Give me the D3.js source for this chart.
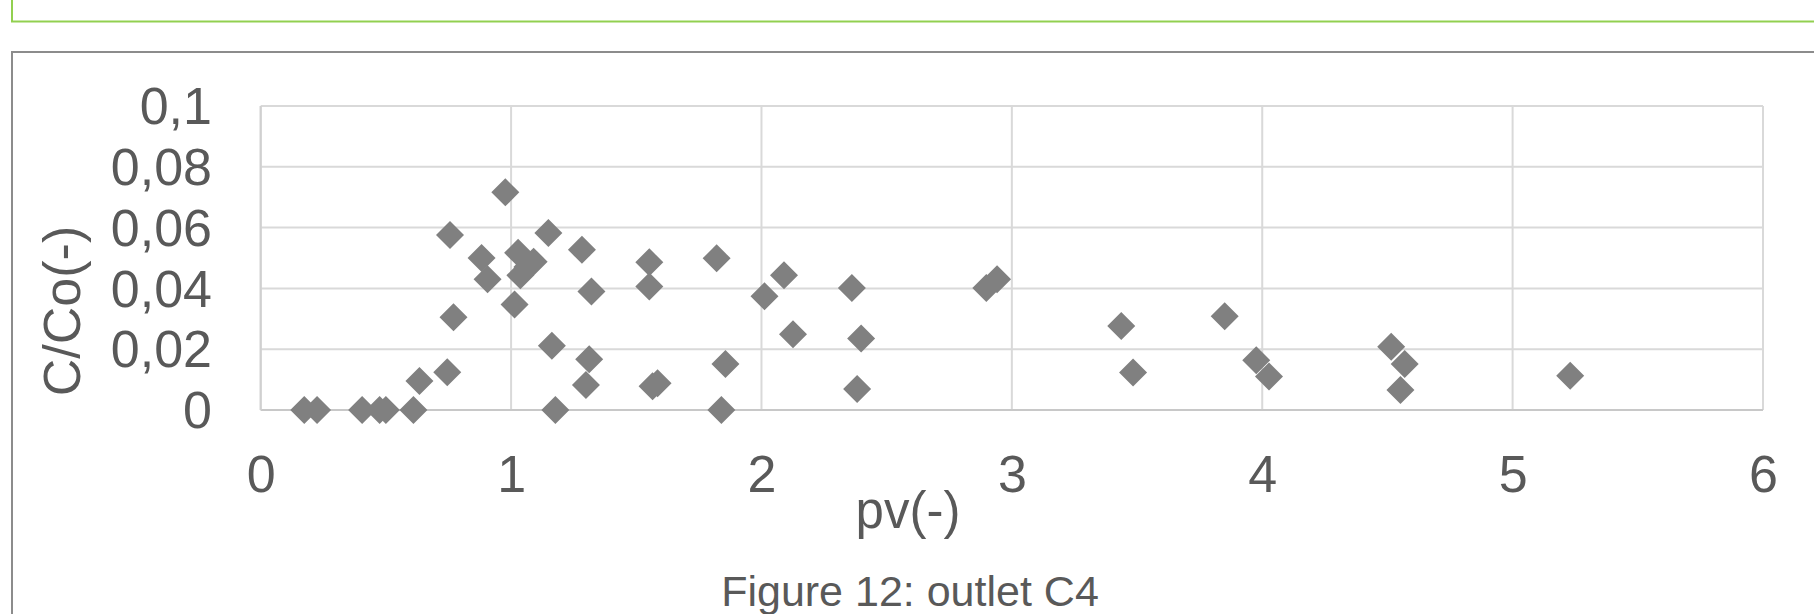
<!DOCTYPE html>
<html>
<head>
<meta charset="utf-8">
<script src="https://cdn.jsdelivr.net/npm/d3@7"></script>
<style>
  html, body { margin: 0; padding: 0; background: #ffffff; }
  svg { display: block; }
  text { font-family: "Liberation Sans", Arial, sans-serif; fill: #595959; }
</style>
</head>
<body>
<svg id="chart" width="1814" height="614"></svg>
<script>
// ---- data ----
const pv = [0.174, 0.225, 0.405, 0.475, 0.500, 0.610, 0.634, 0.745, 0.770, 0.756,
            0.977, 0.882, 0.906, 1.028, 1.090, 1.037, 1.065, 1.014, 1.149, 1.163,
            1.177, 1.283, 1.321, 1.312, 1.299, 1.552, 1.552, 1.565, 1.585, 1.821,
            1.856, 1.840, 2.012, 2.090, 2.126, 2.361, 2.398, 2.382, 2.898, 2.941,
            3.437, 3.484, 3.850, 3.976, 4.027, 4.515, 4.569, 4.552, 5.230];
const cco = [0, 0, 0, 0, 0, 0, 0.0095, 0.0124, 0.0305, 0.0576,
             0.0716, 0.0500, 0.0430, 0.0517, 0.0488, 0.0443, 0.0470, 0.0347, 0.0582, 0.0211,
             0, 0.0527, 0.0390, 0.0167, 0.0082, 0.0486, 0.0406, 0.0078, 0.0088, 0.0499,
             0.0151, 0, 0.0374, 0.0443, 0.0249, 0.0401, 0.0235, 0.0069, 0.0401, 0.0430,
             0.0276, 0.0123, 0.0308, 0.0164, 0.0110, 0.0208, 0.0151, 0.0066, 0.0113];
const xTicks = [0, 1, 2, 3, 4, 5, 6];
const yTicks = [0, 0.02, 0.04, 0.06, 0.08, 0.1];
const yTickLabels = ["0", "0,02", "0,04", "0,06", "0,08", "0,1"];
const xTitle = "pv(-)";
const yTitle = "C/Co(-)";
const caption = "Figure 12: outlet C4";

const points = pv.map((v, i) => ({ x: v, y: cco[i] }));

const svg = d3.select("#chart");

// decorative frames
svg.append("rect").attr("x", 12).attr("y", -10).attr("width", 1830).attr("height", 31.5)
  .attr("fill", "none").attr("stroke", "#92d050").attr("stroke-width", 2);
svg.append("rect").attr("x", 12).attr("y", 52).attr("width", 1830).attr("height", 600)
  .attr("fill", "none").attr("stroke", "#8c8c8c").attr("stroke-width", 2);

const x = d3.scaleLinear().domain([0, 6]).range([260.7, 1763]);
const y = d3.scaleLinear().domain([0, 0.1]).range([410, 106]);

// gridlines
const grid = svg.append("g");
grid.selectAll("line.h").data(yTicks).join("line")
  .attr("x1", x(0)).attr("x2", x(6))
  .attr("y1", d => y(d)).attr("y2", d => y(d))
  .attr("stroke", "#d9d9d9").attr("stroke-width", 2);
grid.selectAll("line.v").data(xTicks).join("line")
  .attr("x1", d => x(d)).attr("x2", d => x(d))
  .attr("y1", y(0)).attr("y2", y(0.1))
  .attr("stroke", "#d9d9d9").attr("stroke-width", 2);
// axis lines
svg.append("line").attr("x1", x(0)).attr("x2", x(6)).attr("y1", y(0)).attr("y2", y(0))
  .attr("stroke", "#c8c8c8").attr("stroke-width", 2);
svg.append("line").attr("x1", x(0)).attr("x2", x(0)).attr("y1", y(0)).attr("y2", y(0.1))
  .attr("stroke", "#d0d0d0").attr("stroke-width", 2);

// axes via d3 (ticks labels only)
const xAxis = d3.axisBottom(x).tickValues(xTicks).tickSize(0).tickPadding(0)
  .tickFormat(d => String(d));
const gx = svg.append("g").attr("transform", `translate(0,${y(0)})`).call(xAxis);
gx.select(".domain").remove();
gx.selectAll("text").attr("y", 82).attr("dy", null)
  .style("font-size", "52px").style("font-family", '"Liberation Sans", Arial, sans-serif')
  .attr("fill", "#595959");

const yAxis = d3.axisLeft(y).tickValues(yTicks).tickSize(0).tickPadding(0)
  .tickFormat((d, i) => yTickLabels[i]);
const gy = svg.append("g").attr("transform", `translate(212,0)`).call(yAxis);
gy.select(".domain").remove();
gy.selectAll("text").attr("x", 0).attr("dy", "0.34em")
  .style("font-size", "52px").style("font-family", '"Liberation Sans", Arial, sans-serif')
  .attr("fill", "#595959");

// markers (diamonds)
const r = 14;
svg.append("g").selectAll("path").data(points).join("path")
  .attr("d", `M0,${-r}L${r},0L0,${r}L${-r},0Z`)
  .attr("transform", d => `translate(${x(d.x)},${y(d.y)})`)
  .attr("fill", "#808080");

// titles
svg.append("text").attr("x", 908).attr("y", 528).attr("text-anchor", "middle")
  .style("font-size", "51px").text(xTitle);
svg.append("text").attr("transform", "translate(80,311) rotate(-90)")
  .attr("text-anchor", "middle").style("font-size", "52px").text(yTitle);
svg.append("text").attr("x", 910).attr("y", 606).attr("text-anchor", "middle")
  .style("font-size", "43px").text(caption);
</script>
</body>
</html>
